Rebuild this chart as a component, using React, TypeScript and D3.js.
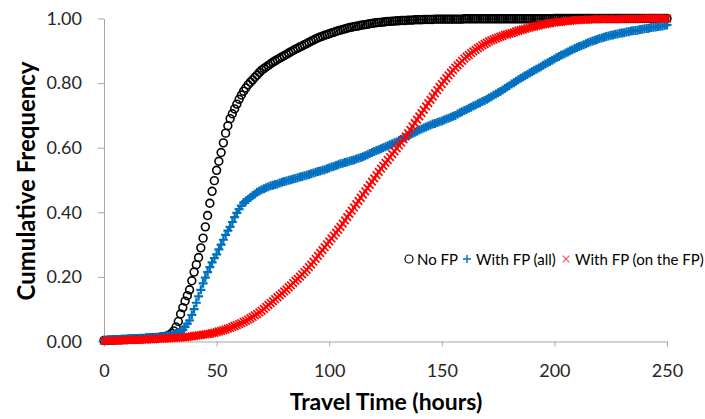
import React, { useEffect, useRef } from "react";
import * as d3 from "d3";

// travel time in hours, one sample per hour
const hours = d3.range(0, 251);

const noFP = [
  0.003, 0.003, 0.004, 0.004, 0.004, 0.005, 0.005, 0.005, 0.006, 0.006,
  0.006, 0.007, 0.007, 0.007, 0.008, 0.008, 0.008, 0.009, 0.009, 0.01,
  0.01, 0.011, 0.011, 0.012, 0.012, 0.013, 0.014, 0.015, 0.017, 0.02,
  0.025, 0.033, 0.045, 0.062, 0.085, 0.105, 0.125, 0.142, 0.16, 0.188,
  0.215, 0.238, 0.26, 0.29, 0.32, 0.355, 0.39, 0.428, 0.465, 0.498,
  0.53, 0.558, 0.585, 0.615, 0.645, 0.668, 0.69, 0.705, 0.72, 0.735,
  0.75, 0.763, 0.775, 0.785, 0.795, 0.803, 0.81, 0.818, 0.825, 0.833,
  0.84, 0.845, 0.85, 0.855, 0.86, 0.865, 0.869, 0.873, 0.877, 0.881,
  0.885, 0.889, 0.893, 0.897, 0.901, 0.905, 0.908, 0.912, 0.915, 0.919,
  0.922, 0.926, 0.93, 0.933, 0.937, 0.94, 0.943, 0.945, 0.948, 0.95,
  0.953, 0.955, 0.957, 0.96, 0.962, 0.964, 0.966, 0.968, 0.97, 0.972,
  0.973, 0.975, 0.976, 0.977, 0.979, 0.98, 0.981, 0.982, 0.984, 0.985,
  0.986, 0.987, 0.988, 0.988, 0.989, 0.99, 0.991, 0.991, 0.992, 0.992,
  0.993, 0.993, 0.994, 0.994, 0.994, 0.995, 0.995, 0.995, 0.996, 0.996,
  0.996, 0.996, 0.997, 0.997, 0.997, 0.997, 0.997, 0.998, 0.998, 0.998,
  0.998, 0.998, 0.998, 0.998, 0.998, 0.998, 0.998, 0.998, 0.998, 0.998,
  0.999, 0.999, 0.999, 0.999, 0.999, 0.999, 0.999, 0.999, 0.999, 0.999,
  0.999, 0.999, 0.999, 0.999, 0.999, 0.999, 0.999, 0.999, 0.999, 0.999,
  0.999, 0.999, 0.999, 0.999, 0.999, 0.999, 0.999, 0.999, 0.999, 0.999,
  0.999, 0.999, 0.999, 0.999, 0.999, 0.999, 0.999, 0.999, 0.999, 0.999,
  1, 1, 1, 1, 1, 1, 1, 1, 1, 1,
  1, 1, 1, 1, 1, 1, 1, 1, 1, 1,
  1, 1, 1, 1, 1, 1, 1, 1, 1, 1,
  1, 1, 1, 1, 1, 1, 1, 1, 1, 1,
  1, 1, 1, 1, 1, 1, 1, 1, 1, 1,
  1,
];

const withFPAll = [
  0.004, 0.004, 0.005, 0.005, 0.005, 0.006, 0.006, 0.006, 0.007, 0.007,
  0.007, 0.008, 0.008, 0.008, 0.009, 0.009, 0.01, 0.01, 0.01, 0.011,
  0.011, 0.012, 0.012, 0.013, 0.013, 0.014, 0.015, 0.016, 0.017, 0.018,
  0.02, 0.022, 0.025, 0.027, 0.03, 0.036, 0.045, 0.055, 0.065, 0.082,
  0.1, 0.12, 0.14, 0.16, 0.18, 0.198, 0.215, 0.23, 0.245, 0.258,
  0.27, 0.285, 0.3, 0.315, 0.33, 0.343, 0.355, 0.37, 0.385, 0.398,
  0.41, 0.42, 0.43, 0.435, 0.44, 0.446, 0.452, 0.457, 0.462, 0.466,
  0.47, 0.473, 0.476, 0.479, 0.482, 0.484, 0.486, 0.488, 0.491, 0.493,
  0.495, 0.497, 0.499, 0.501, 0.503, 0.505, 0.507, 0.509, 0.511, 0.513,
  0.515, 0.517, 0.519, 0.522, 0.524, 0.526, 0.528, 0.53, 0.532, 0.535,
  0.537, 0.54, 0.542, 0.545, 0.547, 0.55, 0.552, 0.554, 0.556, 0.558,
  0.56, 0.562, 0.565, 0.567, 0.57, 0.572, 0.575, 0.578, 0.582, 0.585,
  0.588, 0.591, 0.594, 0.597, 0.6, 0.603, 0.606, 0.609, 0.612, 0.615,
  0.618, 0.622, 0.626, 0.63, 0.633, 0.637, 0.641, 0.644, 0.648, 0.651,
  0.655, 0.658, 0.661, 0.664, 0.667, 0.67, 0.673, 0.675, 0.678, 0.68,
  0.683, 0.686, 0.689, 0.691, 0.694, 0.697, 0.7, 0.704, 0.708, 0.711,
  0.715, 0.718, 0.722, 0.725, 0.729, 0.732, 0.736, 0.739, 0.743, 0.746,
  0.75, 0.754, 0.758, 0.762, 0.766, 0.77, 0.774, 0.779, 0.783, 0.788,
  0.792, 0.797, 0.801, 0.806, 0.81, 0.815, 0.819, 0.823, 0.827, 0.831,
  0.835, 0.839, 0.843, 0.847, 0.851, 0.855, 0.859, 0.863, 0.867, 0.871,
  0.875, 0.879, 0.882, 0.886, 0.889, 0.893, 0.896, 0.9, 0.903, 0.907,
  0.91, 0.913, 0.916, 0.919, 0.922, 0.925, 0.928, 0.93, 0.933, 0.935,
  0.938, 0.94, 0.942, 0.944, 0.946, 0.948, 0.949, 0.951, 0.952, 0.954,
  0.955, 0.956, 0.958, 0.959, 0.961, 0.962, 0.963, 0.964, 0.966, 0.967,
  0.968, 0.969, 0.97, 0.972, 0.973, 0.974, 0.975, 0.976, 0.977, 0.979,
  0.98,
];

const withFPOnFP = [
  0.002, 0.002, 0.002, 0.003, 0.003, 0.003, 0.003, 0.003, 0.004, 0.004,
  0.004, 0.004, 0.004, 0.005, 0.005, 0.005, 0.005, 0.006, 0.006, 0.006,
  0.007, 0.007, 0.007, 0.008, 0.008, 0.008, 0.009, 0.009, 0.01, 0.01,
  0.011, 0.011, 0.011, 0.012, 0.012, 0.013, 0.013, 0.014, 0.015, 0.016,
  0.017, 0.018, 0.019, 0.02, 0.021, 0.022, 0.023, 0.024, 0.026, 0.027,
  0.029, 0.031, 0.033, 0.035, 0.037, 0.04, 0.042, 0.045, 0.048, 0.051,
  0.054, 0.057, 0.061, 0.064, 0.068, 0.072, 0.076, 0.081, 0.085, 0.09,
  0.095, 0.101, 0.107, 0.113, 0.119, 0.125, 0.131, 0.137, 0.143, 0.149,
  0.155, 0.161, 0.168, 0.174, 0.181, 0.188, 0.194, 0.201, 0.208, 0.215,
  0.222, 0.23, 0.238, 0.247, 0.256, 0.265, 0.274, 0.283, 0.292, 0.301,
  0.31, 0.319, 0.328, 0.337, 0.346, 0.355, 0.365, 0.375, 0.385, 0.395,
  0.405, 0.415, 0.425, 0.435, 0.445, 0.455, 0.465, 0.475, 0.485, 0.495,
  0.505, 0.515, 0.525, 0.535, 0.544, 0.553, 0.562, 0.571, 0.58, 0.589,
  0.598, 0.607, 0.616, 0.626, 0.635, 0.645, 0.655, 0.666, 0.676, 0.687,
  0.697, 0.707, 0.717, 0.728, 0.738, 0.748, 0.758, 0.768, 0.778, 0.788,
  0.797, 0.806, 0.815, 0.824, 0.832, 0.84, 0.848, 0.855, 0.862, 0.869,
  0.876, 0.882, 0.887, 0.893, 0.898, 0.903, 0.908, 0.912, 0.917, 0.921,
  0.925, 0.929, 0.932, 0.935, 0.938, 0.941, 0.944, 0.946, 0.949, 0.951,
  0.953, 0.955, 0.957, 0.96, 0.962, 0.964, 0.966, 0.968, 0.97, 0.972,
  0.974, 0.975, 0.977, 0.978, 0.98, 0.982, 0.983, 0.984, 0.985, 0.987,
  0.988, 0.989, 0.989, 0.99, 0.991, 0.992, 0.992, 0.993, 0.994, 0.994,
  0.995, 0.995, 0.996, 0.996, 0.996, 0.997, 0.997, 0.997, 0.997, 0.998,
  0.998, 0.998, 0.998, 0.998, 0.998, 0.998, 0.998, 0.998, 0.998, 0.998,
  0.999, 0.999, 0.999, 0.999, 0.999, 0.999, 0.999, 0.999, 0.999, 0.999,
  1, 1, 1, 1, 1, 1, 1, 1, 1, 1,
  1,
];

const xTicks = [0, 50, 100, 150, 200, 250];
const yTicks = [0, 0.2, 0.4, 0.6, 0.8, 1.0];
const seriesNames = ["No FP", "With FP (all)", "With FP (on the FP)"];

const W = 705;
const H = 419;
const FONT = "Lato, 'Open Sans', sans-serif";
const AXIS_GREY = "#a6a6a6";

const plusPath = "M-4.5,0H4.5M0,-4.5V4.5";
const crossPath = "M-3.8,-3.8L3.8,3.8M-3.8,3.8L3.8,-3.8";
const legendPlus = "M-4,0H4M0,-4V4";
const legendCross = "M-3.3,-3.3L3.3,3.3M-3.3,3.3L3.3,-3.3";

function App() {
  const ref = useRef<SVGSVGElement>(null);

  useEffect(() => {
    const svg = d3.select(ref.current);
    svg.selectAll("*").remove();

    const x = d3.scaleLinear().domain([0, 250]).range([104, 667]);
    const y = d3.scaleLinear().domain([0, 1]).range([341.5, 18.5]);

    // axes
    const xAxis = svg
      .append("g")
      .attr("transform", `translate(0,${y(0)})`)
      .call(
        d3.axisBottom(x).tickValues(xTicks).tickSize(5).tickSizeOuter(0).tickPadding(18)
      );
    const yAxis = svg
      .append("g")
      .attr("transform", `translate(${x(0)},0)`)
      .call(
        d3
          .axisLeft(y)
          .tickValues(yTicks)
          .tickSize(6)
          .tickSizeOuter(0)
          .tickPadding(16)
          .tickFormat(d3.format(".2f"))
      );
    [xAxis, yAxis].forEach((g) => {
      g.select(".domain").attr("stroke", AXIS_GREY);
      g.selectAll(".tick line").attr("stroke", AXIS_GREY);
      g.selectAll(".tick text")
        .attr("fill", "#262626")
        .style("font-family", FONT)
        .style("font-size", "18px");
    });

    const pts = (vals: number[]) => hours.map((h, i) => ({ h, v: vals[i] }));

    // No FP: open circles
    svg
      .append("g")
      .selectAll("circle")
      .data(pts(noFP))
      .join("circle")
      .attr("cx", (d) => x(d.h))
      .attr("cy", (d) => y(d.v))
      .attr("r", 3.9)
      .attr("fill", "none")
      .attr("stroke", "#000")
      .attr("stroke-width", 1.6);

    // With FP (all): blue plus
    svg
      .append("g")
      .selectAll("path")
      .data(pts(withFPAll))
      .join("path")
      .attr("transform", (d) => `translate(${x(d.h)},${y(d.v)})`)
      .attr("d", plusPath)
      .attr("stroke", "#0070c0")
      .attr("stroke-width", 2.2);

    // With FP (on the FP): red cross
    svg
      .append("g")
      .selectAll("path")
      .data(pts(withFPOnFP))
      .join("path")
      .attr("transform", (d) => `translate(${x(d.h)},${y(d.v)})`)
      .attr("d", crossPath)
      .attr("stroke", "#ff0000")
      .attr("stroke-width", 1.7);

    // axis titles
    svg
      .append("text")
      .attr("x", 386)
      .attr("y", 410)
      .attr("text-anchor", "middle")
      .style("font-family", FONT)
      .style("font-size", "23px")
      .style("font-weight", "bold")
      .attr("fill", "#000")
      .text("Travel Time (hours)");
    svg
      .append("text")
      .attr("transform", "translate(35,181) rotate(-90)")
      .attr("text-anchor", "middle")
      .style("font-family", FONT)
      .style("font-size", "24px")
      .style("font-weight", "bold")
      .attr("fill", "#000")
      .text("Cumulative Frequency");

    // legend
    const lg = svg.append("g").style("font-family", FONT).style("font-size", "15px");
    const ly = 259;
    lg.append("circle")
      .attr("cx", 409)
      .attr("cy", ly)
      .attr("r", 4)
      .attr("fill", "none")
      .attr("stroke", "#000")
      .attr("stroke-width", 1.2);
    lg.append("text").attr("x", 417).attr("y", ly + 5.5).text(seriesNames[0]);
    lg.append("path")
      .attr("transform", `translate(467,${ly})`)
      .attr("d", legendPlus)
      .attr("stroke", "#0070c0")
      .attr("stroke-width", 1.4);
    lg.append("text").attr("x", 476).attr("y", ly + 5.5).text(seriesNames[1]);
    lg.append("path")
      .attr("transform", `translate(566,${ly})`)
      .attr("d", legendCross)
      .attr("stroke", "#ff5050")
      .attr("stroke-width", 1.2);
    lg.append("text").attr("x", 575).attr("y", ly + 5.5).text(seriesNames[2]);
  }, []);

  return (
    <svg
      ref={ref}
      width={W}
      height={H}
      style={{ position: "absolute", left: 0, top: 0, background: "#fff" }}
    />
  );
}

export default App;
